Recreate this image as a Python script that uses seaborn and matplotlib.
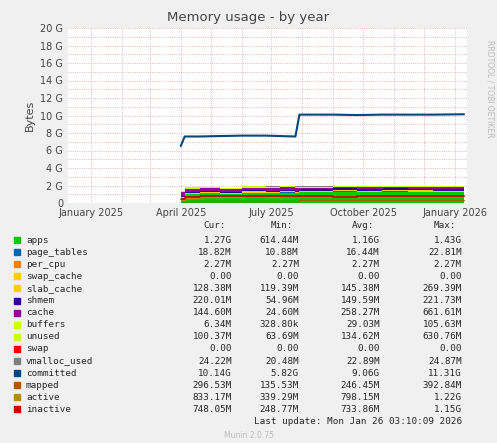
import pandas as pd
import numpy as np
import seaborn as sns
import matplotlib.pyplot as plt
import matplotlib.dates as mdates
from matplotlib.ticker import MultipleLocator, FuncFormatter

G = 1024 ** 3

# Sample dates (readings)
dates = pd.to_datetime(['2025-04-01', '2025-04-05', '2025-04-20', '2025-05-10', '2025-06-01',
                        '2025-06-25', '2025-07-10', '2025-07-25', '2025-07-29', '2025-09-01',
                        '2025-09-25', '2025-10-20', '2025-11-15', '2025-12-10', '2026-01-10'])

# stacked series, GB
apps         = [0.6, 1.0, 1.1, 1.0, 1.15, 1.1, 1.2, 1.1, 1.25, 1.3, 1.27, 1.3, 1.28, 1.27, 1.27]
page_tables  = [0.015, 0.016, 0.016, 0.017, 0.016, 0.016, 0.017, 0.016, 0.018, 0.018, 0.019, 0.018, 0.019, 0.019, 0.019]
per_cpu      = [0.002] * 15
slab_cache   = [0.12, 0.13, 0.14, 0.14, 0.15, 0.14, 0.15, 0.14, 0.13, 0.13, 0.13, 0.13, 0.13, 0.13, 0.13]
shmem        = [0.10, 0.12, 0.13, 0.14, 0.15, 0.15, 0.16, 0.15, 0.20, 0.21, 0.22, 0.22, 0.22, 0.22, 0.22]
cache        = [0.40, 0.35, 0.30, 0.25, 0.28, 0.30, 0.25, 0.30, 0.15, 0.14, 0.15, 0.14, 0.15, 0.14, 0.14]
buffers      = [0.02] * 15
unused       = [0.10, 0.15, 0.15, 0.12, 0.15, 0.14, 0.13, 0.14, 0.10, 0.10, 0.10, 0.10, 0.10, 0.10, 0.10]
vmalloc_used = [0.023] * 15

# line series, GB
committed = [6.5, 7.6, 7.6, 7.65, 7.7, 7.7, 7.65, 7.6, 10.1, 10.1, 10.05, 10.1, 10.1, 10.1, 10.14]
mapped    = [0.20, 0.25, 0.25, 0.24, 0.25, 0.25, 0.24, 0.25, 0.29, 0.29, 0.30, 0.29, 0.30, 0.29, 0.30]
active    = [0.40, 0.60, 0.70, 0.65, 0.75, 0.70, 0.80, 0.75, 0.85, 0.83, 0.84, 0.83, 0.83, 0.83, 0.83]
inactive  = [0.50, 0.70, 0.80, 0.75, 0.85, 0.80, 0.75, 0.80, 0.75, 0.74, 0.75, 0.75, 0.75, 0.75, 0.75]

stack_names = ['apps', 'page_tables', 'per_cpu', 'slab_cache', 'shmem', 'cache', 'buffers', 'unused', 'vmalloc_used']
stack_vals = [apps, page_tables, per_cpu, slab_cache, shmem, cache, buffers, unused, vmalloc_used]
stack_cols = ['#00cc00', '#0066b3', '#ff8000', '#ffcc00', '#330099', '#990099', '#ccff00', '#ccff00', '#808080']

sns.set_style('white')
plt.rcParams['font.family'] = ['DejaVu Sans']
fig = plt.figure(figsize=(4.97, 4.43), dpi=100, facecolor='#f0f0f0')
ax = fig.add_axes([68 / 497, 1 - 203 / 443, 399 / 497, 175 / 443])
ax.set_facecolor('white')

ax.stackplot(dates, *[np.array(v) * G for v in stack_vals], colors=stack_cols, step='post', linewidth=0)
df = pd.DataFrame({'date': dates, 'committed': np.array(committed) * G, 'mapped': np.array(mapped) * G,
                   'active': np.array(active) * G, 'inactive': np.array(inactive) * G})
sns.lineplot(data=df, x='date', y='mapped', color='#b35a00', lw=1, drawstyle='steps-post', ax=ax)
sns.lineplot(data=df, x='date', y='active', color='#b38f00', lw=1, drawstyle='steps-post', ax=ax)
sns.lineplot(data=df, x='date', y='inactive', color='#cc0000', lw=1.2, drawstyle='steps-post', ax=ax)
sns.lineplot(data=df, x='date', y='committed', color='#00487d', lw=1.5, ax=ax)

ax.set_xlim(pd.Timestamp('2024-12-09'), pd.Timestamp('2026-01-13'))
ax.set_ylim(0, 20 * G)
ax.yaxis.set_major_locator(MultipleLocator(2 * G))
ax.yaxis.set_minor_locator(MultipleLocator(1 * G))
ax.yaxis.set_major_formatter(FuncFormatter(lambda v, p: '0' if v == 0 else f'{v / G:.0f} G'))
ax.xaxis.set_major_locator(mdates.MonthLocator(bymonth=[1, 4, 7, 10]))
ax.xaxis.set_minor_locator(mdates.MonthLocator())
ax.xaxis.set_major_formatter(mdates.DateFormatter('%B %Y'))
ax.grid(True, which='both', color='#e8a0a0', ls=':', lw=0.6)
ax.tick_params(labelsize=7, colors='#444444', length=0)
for s in ax.spines.values():
    s.set_visible(False)
ax.set_xlabel('')
ax.set_ylabel('Bytes', fontsize=8, color='#444444')
fig.text(0.5, 1 - 18 / 443, 'Memory usage - by year', ha='center', va='center', fontsize=9.5, color='#444444')
fig.text(0.985, 0.8, 'RRDTOOL / TOBI OETIKER', rotation=270, fontsize=5.5, color='#bbbbbb', ha='center', va='center')

# legend table
legend_names = ['apps', 'page_tables', 'per_cpu', 'swap_cache', 'slab_cache', 'shmem', 'cache', 'buffers',
                'unused', 'swap', 'vmalloc_used', 'committed', 'mapped', 'active', 'inactive']
legend_cols = ['#00cc00', '#0066b3', '#ff8000', '#ffcc00', '#ffcc00', '#330099', '#990099', '#ccff00', '#ccff00',
               '#ff0000', '#808080', '#00487d', '#b35a00', '#b38f00', '#cc0000']
cur = ['1.27G', '18.82M', '2.27M', '0.00', '128.38M', '220.01M', '144.60M', '6.34M', '100.37M', '0.00',
       '24.22M', '10.14G', '296.53M', '833.17M', '748.05M']
mins = ['614.44M', '10.88M', '2.27M', '0.00', '119.39M', '54.96M', '24.60M', '328.80k', '63.69M', '0.00',
        '20.48M', '5.82G', '135.53M', '339.29M', '248.77M']
avgs = ['1.16G', '16.44M', '2.27M', '0.00', '145.38M', '149.59M', '258.27M', '29.03M', '134.62M', '0.00',
        '22.89M', '9.06G', '246.45M', '798.15M', '733.86M']
maxs = ['1.43G', '22.81M', '2.27M', '0.00', '269.39M', '221.73M', '661.61M', '105.63M', '630.76M', '0.00',
        '24.87M', '11.31G', '392.84M', '1.22G', '1.15G']
fs = 6.7
hy = 226
fig.text(226 / 497, 1 - hy / 443, 'Cur:', fontsize=fs, ha='right', va='center', family='DejaVu Sans Mono')
fig.text(293 / 497, 1 - hy / 443, 'Min:', fontsize=fs, ha='right', va='center', family='DejaVu Sans Mono')
fig.text(374 / 497, 1 - hy / 443, 'Avg:', fontsize=fs, ha='right', va='center', family='DejaVu Sans Mono')
fig.text(456 / 497, 1 - hy / 443, 'Max:', fontsize=fs, ha='right', va='center', family='DejaVu Sans Mono')
for i, n in enumerate(legend_names):
    y = 1 - (240 + i * 12.1) / 443
    fig.patches.append(plt.Rectangle((14 / 497, y - 3 / 443), 6 / 497, 6 / 443, color=legend_cols[i],
                                     transform=fig.transFigure, figure=fig))
    fig.text(26 / 497, y, n, fontsize=fs, va='center', family='DejaVu Sans Mono')
    for x, col in zip([232, 299, 380, 462], [cur, mins, avgs, maxs]):
        fig.text(x / 497, y, col[i], fontsize=fs, ha='right', va='center', family='DejaVu Sans Mono')
fig.text(462 / 497, 1 - 422 / 443, 'Last update: Mon Jan 26 03:10:09 2026', fontsize=fs, ha='right',
         va='center', family='DejaVu Sans Mono')
fig.text(0.5, 1 - 436 / 443, 'Munin 2.0.75', fontsize=5.5, ha='center', va='center', color='#bbbbbb')

fig.savefig('out.png', dpi=100, facecolor=fig.get_facecolor())
